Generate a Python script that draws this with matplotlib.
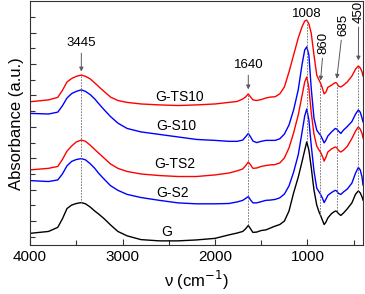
import matplotlib
matplotlib.use("Agg")
import matplotlib.pyplot as plt
import numpy as np
from matplotlib.ticker import MultipleLocator

plt.rcParams['font.family'] = ['Liberation Sans', 'DejaVu Sans']

# ---- dados (numero de onda em cm-1, absorbancia em u.a.) ----
wn = [4000, 3800, 3700, 3650, 3600, 3550, 3500, 3445, 3400, 3350, 3300, 3260, 3200,
      3130, 3050, 2950, 2800, 2600, 2400, 2200, 2000, 1850, 1760, 1700, 1670, 1640,
      1615, 1590, 1550, 1500, 1450, 1400, 1350, 1300, 1250, 1200, 1150, 1100, 1060,
      1030, 1008, 985, 960, 930, 900, 875, 860, 840, 820, 800, 780, 740, 700, 685,
      665, 640, 610, 570, 520, 480, 450, 430, 410, 400]

abs_G = [0.061, 0.067, 0.080, 0.107, 0.140, 0.151, 0.156, 0.159, 0.155, 0.145, 0.132,
         0.123, 0.108, 0.088, 0.067, 0.053, 0.041, 0.037, 0.037, 0.040, 0.045, 0.056,
         0.062, 0.067, 0.075, 0.086, 0.075, 0.064, 0.065, 0.070, 0.072, 0.078, 0.084,
         0.089, 0.100, 0.132, 0.190, 0.240, 0.288, 0.326, 0.352, 0.326, 0.272, 0.199,
         0.151, 0.129, 0.119, 0.104, 0.089, 0.097, 0.110, 0.124, 0.132, 0.131, 0.124,
         0.118, 0.126, 0.139, 0.158, 0.186, 0.196, 0.190, 0.177, 0.167]

abs_S2 = [0.229, 0.226, 0.231, 0.250, 0.276, 0.290, 0.296, 0.299, 0.295, 0.283, 0.268,
          0.253, 0.234, 0.213, 0.198, 0.185, 0.175, 0.166, 0.158, 0.155, 0.155, 0.156,
          0.161, 0.166, 0.172, 0.178, 0.167, 0.158, 0.158, 0.162, 0.166, 0.167, 0.169,
          0.174, 0.186, 0.212, 0.256, 0.311, 0.381, 0.435, 0.457, 0.422, 0.342, 0.260,
          0.205, 0.193, 0.186, 0.174, 0.159, 0.170, 0.182, 0.191, 0.198, 0.196, 0.188,
          0.185, 0.193, 0.202, 0.221, 0.253, 0.271, 0.263, 0.240, 0.215]

abs_TS2 = [0.263, 0.268, 0.274, 0.296, 0.323, 0.339, 0.352, 0.358, 0.354, 0.342, 0.328,
           0.317, 0.301, 0.282, 0.268, 0.258, 0.250, 0.245, 0.242, 0.242, 0.247, 0.253,
           0.260, 0.266, 0.276, 0.288, 0.279, 0.268, 0.269, 0.274, 0.277, 0.279, 0.280,
           0.285, 0.301, 0.333, 0.381, 0.438, 0.498, 0.543, 0.559, 0.524, 0.447, 0.377,
           0.339, 0.326, 0.320, 0.307, 0.291, 0.304, 0.320, 0.330, 0.336, 0.334, 0.325,
           0.320, 0.326, 0.338, 0.363, 0.387, 0.400, 0.393, 0.379, 0.365]

abs_S10 = [0.443, 0.441, 0.447, 0.467, 0.492, 0.506, 0.513, 0.518, 0.513, 0.503, 0.489,
           0.475, 0.455, 0.433, 0.412, 0.395, 0.384, 0.376, 0.368, 0.360, 0.357, 0.354,
           0.354, 0.358, 0.368, 0.379, 0.368, 0.355, 0.350, 0.354, 0.357, 0.357, 0.357,
           0.362, 0.377, 0.406, 0.454, 0.518, 0.597, 0.645, 0.655, 0.629, 0.524, 0.428,
           0.390, 0.379, 0.374, 0.362, 0.349, 0.358, 0.371, 0.384, 0.395, 0.393, 0.387,
           0.379, 0.390, 0.401, 0.417, 0.441, 0.454, 0.447, 0.428, 0.416]

abs_TS10 = [0.480, 0.486, 0.494, 0.516, 0.543, 0.554, 0.561, 0.565, 0.561, 0.553, 0.540,
            0.529, 0.513, 0.495, 0.484, 0.478, 0.473, 0.470, 0.468, 0.470, 0.473, 0.478,
            0.481, 0.489, 0.495, 0.505, 0.495, 0.486, 0.484, 0.487, 0.492, 0.495, 0.496,
            0.505, 0.527, 0.575, 0.629, 0.683, 0.718, 0.737, 0.740, 0.728, 0.699, 0.629,
            0.565, 0.549, 0.540, 0.524, 0.505, 0.511, 0.526, 0.533, 0.541, 0.540, 0.530,
            0.527, 0.533, 0.543, 0.562, 0.584, 0.594, 0.588, 0.575, 0.562]

amostras = ["G", "G-S2", "G-TS2", "G-S10", "G-TS10"]
cores = ["black", "#0000ff", "#ff0000", "#0000ff", "#ff0000"]
# posicao dos nomes das amostras (cm-1, u.a.)
rotulo_x = [2524, 2459, 2434, 2423, 2388]
rotulo_y = [0.066, 0.1885, 0.282, 0.404, 0.496]

picos = [3445, 1640, 1008, 860, 685, 450]

# ---- figura ----
fig = plt.figure(figsize=(3.65, 2.94), dpi=100)
ax = fig.add_axes([0.0822, 0.165, 0.9123, 0.830])

espectros = [abs_G, abs_S2, abs_TS2, abs_S10, abs_TS10]
for ys, cor in zip(espectros, cores):
    ax.plot(wn, ys, color=cor, lw=1.0)

for nome, x, y in zip(amostras, rotulo_x, rotulo_y):
    ax.text(x, y, nome, fontsize=10, ha="center", va="center")

# linhas verticais pontilhadas nos picos (do espectro G ate o G-TS10)
wn_r = np.array(wn[::-1])
for p in picos:
    y0 = np.interp(p, wn_r, np.array(abs_G[::-1]))
    y1 = np.interp(p, wn_r, np.array(abs_TS10[::-1]))
    ax.plot([p, p], [y0, y1], color="0.4", lw=0.6, ls=(0, (2, 1.5)))

# anotacoes com setas
seta = dict(arrowstyle="-|>", color="0.35", lw=0.7, mutation_scale=6,
            shrinkA=1, shrinkB=1)
ax.annotate("3445", xy=(3445, 0.572), xytext=(3445, 0.667), ha="center",
            va="center", fontsize=9.5, arrowprops=seta)
ax.annotate("1640", xy=(1640, 0.515), xytext=(1640, 0.597), ha="center",
            va="center", fontsize=9.5, arrowprops=seta)
ax.text(1008, 0.760, "1008", ha="center", va="center", fontsize=9.5)
ax.annotate("860", xy=(860, 0.543), xytext=(825, 0.667), ha="center",
            va="center", fontsize=9.5, rotation=90, arrowprops=seta)
ax.annotate("685", xy=(685, 0.549), xytext=(616, 0.7245), ha="center",
            va="center", fontsize=9.5, rotation=90, arrowprops=seta)
ax.annotate("450", xy=(450, 0.607), xytext=(447, 0.766), ha="center",
            va="center", fontsize=9.5, rotation=90, arrowprops=seta,
            annotation_clip=False)

# eixos
ax.set_xlim(4000, 400)
ax.set_ylim(0.0223, 0.7994)
ax.xaxis.set_major_locator(MultipleLocator(1000))
ax.xaxis.set_minor_locator(MultipleLocator(500))
ax.yaxis.set_major_locator(MultipleLocator(0.1))
ax.yaxis.set_minor_locator(MultipleLocator(0.05))
ax.tick_params(which="both", direction="in", top=False, right=False,
               labelleft=False, labelsize=11, color="#333333", width=0.8)
ax.tick_params(which="major", length=4)
ax.tick_params(which="minor", length=3.5)
for s in ax.spines.values():
    s.set_color("#333333")
    s.set_linewidth(0.8)

ax.set_xlabel("ν (cm$^{-1}$)", fontsize=12, labelpad=3.5)
ax.set_ylabel("Absorbance (a.u.)", fontsize=12, labelpad=4)

fig.savefig("out.png", dpi=100)
plt.close(fig)
